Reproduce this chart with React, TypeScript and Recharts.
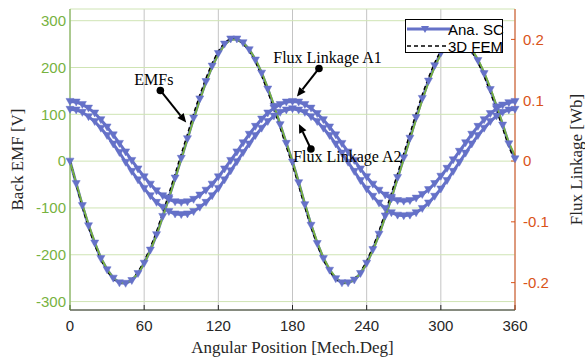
import React from 'react';
import { LineChart, Line, XAxis, YAxis, CartesianGrid, ReferenceLine, ReferenceDot } from 'recharts';

const angles = [
  0, 5, 10, 15, 20, 25, 30, 35, 40, 45, 50, 55, 60, 65, 70, 75, 80, 85, 90,
  95, 100, 105, 110, 115, 120, 125, 130, 135, 140, 145, 150, 155, 160, 165, 170, 175, 180,
  185, 190, 195, 200, 205, 210, 215, 220, 225, 230, 235, 240, 245, 250, 255, 260, 265, 270,
  275, 280, 285, 290, 295, 300, 305, 310, 315, 320, 325, 330, 335, 340, 345, 350, 355, 360,
];

const emfAnaSC = [
  0, -48, -95, -138, -175, -208, -232, -250, -260, -261, -255, -240, -218, -190, -157, -118, -78, -36, 6,
  48, 92, 133, 170, 203, 230, 250, 261, 261, 253, 238, 216, 188, 154, 117, 78, 38, -2,
  -46, -93, -137, -176, -208, -233, -251, -260, -260, -254, -240, -218, -189, -156, -117, -77, -35, 7,
  49, 93, 134, 171, 204, 231, 250, 260, 260, 252, 237, 215, 187, 153, 116, 77, 37, 5,
];

const emf3DFEM = [
  2, -50, -98, -142, -179, -211, -235, -252, -261, -261, -253, -237, -214, -185, -151, -111, -70, -28, 15,
  57, 101, 141, 177, 209, 235, 253, 262, 260, 251, 235, 212, 183, 149, 111, 72, 31, -8,
  -52, -98, -141, -179, -211, -235, -252, -260, -259, -252, -237, -214, -184, -150, -110, -69, -27, 16,
  58, 102, 142, 178, 210, 236, 253, 261, 259, 250, 234, 211, 182, 148, 110, 71, 31, 0,
];

const emfGreen = [
  0, -46, -92, -135, -173, -206, -231, -249, -259, -260, -254, -240, -219, -191, -158, -120, -80, -38, 4,
  46, 89, 130, 168, 201, 228, 248, 259, 260, 253, 239, 218, 190, 157, 120, 80, 40, 0,
  -44, -90, -134, -173, -206, -231, -249, -259, -260, -254, -240, -219, -191, -158, -120, -80, -38, 4,
  46, 89, 130, 168, 201, 228, 248, 259, 260, 253, 239, 218, 190, 157, 120, 80, 40, 12,
];

const fluxA1 = [
  0.098, 0.097, 0.093, 0.087, 0.079, 0.068, 0.056, 0.043, 0.029, 0.015, 0.001, -0.013, -0.026, -0.038, -0.049, -0.057, -0.063, -0.067, -0.068,
  -0.067, -0.063, -0.056, -0.048, -0.038, -0.026, -0.013, 0.001, 0.015, 0.030, 0.044, 0.057, 0.069, 0.079, 0.087, 0.093, 0.097, 0.098,
  0.097, 0.093, 0.087, 0.078, 0.068, 0.056, 0.043, 0.029, 0.015, 0.001, -0.013, -0.026, -0.038, -0.048, -0.056, -0.062, -0.065, -0.066,
  -0.065, -0.061, -0.055, -0.047, -0.037, -0.025, -0.012, 0.002, 0.016, 0.030, 0.044, 0.057, 0.068, 0.078, 0.086, 0.092, 0.096, 0.098,
];

const fluxA2 = [
  0.085, 0.084, 0.080, 0.073, 0.065, 0.054, 0.042, 0.028, 0.014, -0.002, -0.017, -0.031, -0.045, -0.057, -0.068, -0.076, -0.083, -0.087, -0.088,
  -0.087, -0.083, -0.076, -0.068, -0.057, -0.045, -0.031, -0.016, -0.001, 0.014, 0.028, 0.042, 0.054, 0.065, 0.074, 0.080, 0.084, 0.086,
  0.084, 0.080, 0.073, 0.065, 0.054, 0.042, 0.028, 0.013, -0.002, -0.017, -0.032, -0.046, -0.058, -0.069, -0.078, -0.085, -0.089, -0.090,
  -0.089, -0.085, -0.078, -0.069, -0.058, -0.046, -0.032, -0.017, -0.002, 0.013, 0.028, 0.042, 0.054, 0.065, 0.074, 0.080, 0.084, 0.085,
];

const xTicks = [0, 60, 120, 180, 240, 300, 360];
const leftTicks = [-300, -200, -100, 0, 100, 200, 300];
const rightTicks = [-0.2, -0.1, 0, 0.1, 0.2];

// annotation texts and arrows, in data coordinates (x: deg, y: left axis V)
const annotationTexts = [
  { label: 'EMFs', x: 67.8, y: 174 },
  { label: 'Flux Linkage A1', x: 208.3, y: 221 },
  { label: 'Flux Linkage A2', x: 224.4, y: 10 },
];
const annotationArrows = [
  { from: { x: 73.1, y: 151 }, to: { x: 94.0, y: 82.5 } },
  { from: { x: 201.4, y: 198 }, to: { x: 183.6, y: 138 } },
  { from: { x: 194.9, y: 26 }, to: { x: 185.2, y: 79.6 } },
];

const data = angles.map((a, i) => ({
  angle: a,
  emfAna: emfAnaSC[i],
  emfFem: emf3DFEM[i],
  emfGreen: emfGreen[i],
  a1: fluxA1[i],
  a2: fluxA2[i],
}));

const BLUE = '#6571c8';
const GREEN = '#77b23f';
const ORANGE = '#d95319';
const DARK = '#262626';
const SANS = "'Liberation Sans', Arial, sans-serif";
const SERIF = "'Liberation Serif', 'Times New Roman', serif";

const Tri = (props: any) => {
  const { cx, cy, index } = props;
  if (cx == null || cy == null) return <g key={`t${index}`} />;
  return (
    <polygon
      key={`t${index}`}
      points={`${cx - 4},${cy - 3} ${cx + 4},${cy - 3} ${cx},${cy + 4}`}
      fill={BLUE}
      stroke={BLUE}
      strokeWidth={0.5}
    />
  );
};

const arrowShape = (p: any) => {
  const { x1, y1, x2, y2 } = p;
  const dx = x2 - x1;
  const dy = y2 - y1;
  const len = Math.hypot(dx, dy) || 1;
  const ux = dx / len;
  const uy = dy / len;
  const hl = 9;
  const hw = 4;
  const bx = x2 - ux * hl;
  const by = y2 - uy * hl;
  return (
    <g>
      <line x1={x1} y1={y1} x2={bx} y2={by} stroke="#000" strokeWidth={2} />
      <polygon
        points={`${x2},${y2} ${bx - uy * hw},${by + ux * hw} ${bx + uy * hw},${by - ux * hw}`}
        fill="#000"
      />
      <circle cx={x1} cy={y1} r={3.8} fill="#000" />
    </g>
  );
};

const textShape = (label: string) => (p: any) => (
  <text
    x={p.cx}
    y={p.cy}
    textAnchor="middle"
    dominantBaseline="central"
    fontFamily={SERIF}
    fontSize={16}
    fill="#000"
  >
    {label}
  </text>
);

export default function App() {
  return (
    <div style={{ position: 'absolute', left: 0, top: 0, width: 585, height: 358, background: '#fff' }}>
      <LineChart width={585} height={358} data={data} margin={{ top: 9, right: 0, bottom: 0, left: 0 }}>
        <CartesianGrid horizontal={false} stroke="#c4c4c4" strokeWidth={1} yAxisId="left" />
        <CartesianGrid vertical={false} stroke="#cfe4b4" strokeWidth={1} yAxisId="left" />
        <XAxis
          dataKey="angle"
          type="number"
          domain={[0, 360]}
          ticks={xTicks}
          height={48}
          stroke={DARK}
          tickSize={-5}
          tickMargin={15}
          tick={{ fill: DARK, fontSize: 15, fontFamily: SANS }}
          label={{
            value: 'Angular Position [Mech.Deg]',
            position: 'insideBottom',
            offset: 5,
            fill: DARK,
            fontSize: 17,
            fontFamily: SERIF,
          }}
        />
        <XAxis xAxisId="top" orientation="top" dataKey="angle" type="number" domain={[0, 360]} height={0} tick={false} tickLine={false} stroke={DARK} />
        <YAxis
          yAxisId="left"
          domain={[-318, 325]}
          ticks={leftTicks}
          width={70}
          stroke={GREEN}
          tickLine={false}
          tickSize={0}
          tickMargin={4}
          tick={{ fill: GREEN, fontSize: 15, fontFamily: SANS }}
          label={{
            value: 'Back EMF [V]',
            angle: -90,
            position: 'insideLeft',
            offset: 17,
            style: { textAnchor: 'middle' },
            fill: DARK,
            fontSize: 17,
            fontFamily: SERIF,
          }}
        />
        <YAxis
          yAxisId="right"
          orientation="right"
          domain={[-0.245, 0.25]}
          ticks={rightTicks}
          width={70}
          stroke={ORANGE}
          tickSize={-4}
          tickMargin={12}
          tick={{ fill: ORANGE, fontSize: 15, fontFamily: SANS }}
          label={{
            value: 'Flux Linkage [Wb]',
            angle: -90,
            position: 'insideRight',
            offset: 9,
            style: { textAnchor: 'middle' },
            fill: DARK,
            fontSize: 17,
            fontFamily: SERIF,
          }}
        />
        <Line yAxisId="right" dataKey="a1" stroke={BLUE} strokeWidth={3} dot={Tri} isAnimationActive={false} />
        <Line yAxisId="right" dataKey="a2" stroke={BLUE} strokeWidth={3} dot={Tri} isAnimationActive={false} />
        <Line yAxisId="left" dataKey="emfAna" stroke={BLUE} strokeWidth={3} dot={Tri} isAnimationActive={false} />
        <Line yAxisId="left" dataKey="emfFem" stroke="#000" strokeWidth={1.6} strokeDasharray="4 3" dot={false} isAnimationActive={false} />
        <Line yAxisId="left" dataKey="emfGreen" stroke={GREEN} strokeWidth={1.8} dot={false} isAnimationActive={false} />
        {annotationArrows.map((a, i) => (
          <ReferenceLine key={`ar${i}`} yAxisId="left" segment={[a.from, a.to]} shape={arrowShape} ifOverflow="visible" />
        ))}
        {annotationTexts.map((t, i) => (
          <ReferenceDot key={`tx${i}`} yAxisId="left" x={t.x} y={t.y} shape={textShape(t.label)} ifOverflow="visible" />
        ))}
      </LineChart>
      <div
        style={{
          position: 'absolute',
          left: 405,
          top: 19,
          width: 98,
          height: 34,
          boxSizing: 'border-box',
          border: '1.5px solid #000',
          background: '#fff',
        }}
      >
        <svg width={96} height={32} style={{ position: 'absolute', left: 0, top: 0, overflow: 'visible' }}>
          <line x1={1} y1={9} x2={46} y2={9} stroke={BLUE} strokeWidth={3} />
          <polygon points="15,6 23,6 19,13" fill={BLUE} />
          <text x={42} y={14.5} fontFamily={SANS} fontSize={15} fill="#000">Ana. SC</text>
          <line x1={1} y1={26} x2={42} y2={26} stroke="#000" strokeWidth={1.6} strokeDasharray="4 3" />
          <text x={42} y={31.5} fontFamily={SANS} fontSize={15} fill="#000">3D FEM</text>
        </svg>
      </div>
    </div>
  );
}
